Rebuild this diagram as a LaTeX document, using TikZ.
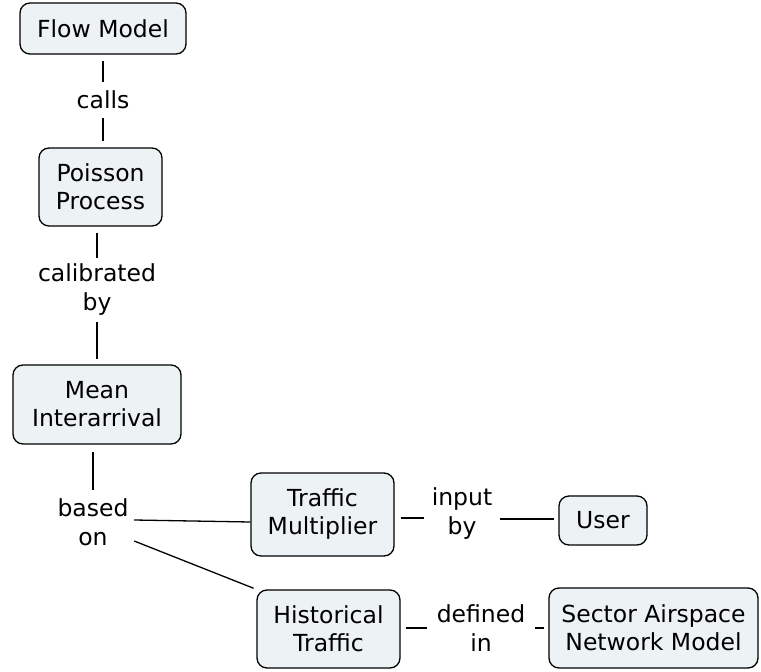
\documentclass[tikz,border=0pt]{standalone}
\usepackage{fontspec}
\setmainfont{DejaVu Sans}
\definecolor{boxfill}{RGB}{237,243,245}
\begin{document}
\begin{tikzpicture}[x=1pt,y=-1pt,
  concept/.style={draw=black, line width=1.3pt, fill=boxfill, rounded corners=10pt,
    align=center, inner sep=0pt, font=\fontsize{23.5}{28}\selectfont},
  lab/.style={align=center, inner sep=0pt, font=\fontsize{23.5}{29}\selectfont},
  link/.style={draw=black, line width=1.3pt}]
\useasboundingbox (0,0) rectangle (761,672);
\node[concept, minimum width=166pt, minimum height=51pt] (fm) at (103,28.5) {Flow Model};
\node[concept, minimum width=123pt, minimum height=78pt] (pp) at (100.5,187) {Poisson\\Process};
\node[concept, minimum width=168pt, minimum height=79pt] (mi) at (97,404.5) {Mean\\Interarrival};
\node[concept, minimum width=143pt, minimum height=83pt] (tm) at (322.5,514.5) {Traffic\\Multiplier};
\node[concept, minimum width=88pt, minimum height=49pt] (us) at (603,520.5) {User};
\node[concept, minimum width=143pt, minimum height=78pt] (ht) at (328.5,629) {Historical\\Traffic};
\node[concept, minimum width=209pt, minimum height=80pt] (sa) at (653.5,628) {Sector Airspace\\Network Model};

\node[lab, minimum height=36pt] (calls) at (103,100) {calls};
\node[lab, minimum height=64pt] (cb) at (97,290) {calibrated\\by};
\node[lab, minimum width=82pt, minimum height=64pt] (bo) at (93,522) {based\\on};
\node[lab, minimum width=76pt] (ib) at (462,514) {input\\by};
\node[lab, minimum width=108pt] (di) at (481,628) {defined\\in};

\draw[link, shorten <=6pt] (fm.south -| calls) -- (calls.north);
\draw[link, shorten >=6pt] (calls.south) -- (calls.south |- pp.north);
\draw[link, shorten <=6pt] (pp.south -| cb) -- (cb.north);
\draw[link, shorten >=5pt] (cb.south) -- (cb.south |- mi.north);
\draw[link, shorten <=7pt] (mi.south -| bo) -- (bo.north);
\draw[link] ([yshift=2pt]bo.east) -- ([yshift=-7.5pt]tm.west);
\draw[link, shorten >=3pt] ([yshift=-19pt]bo.east) -- (ht.north west);
\draw[link, shorten <=6pt] ([yshift=-3.5pt]tm.east) -- ([yshift=-4pt]ib.west);
\draw[link, shorten >=4pt] ([yshift=-5pt]ib.east) -- ([yshift=-5pt]ib.east -| us.west);
\draw[link, shorten <=5pt] (ht.east |- di) -- (di.west);
\draw[link, shorten >=4pt] (di.east) -- (di.east -| sa.west);
\end{tikzpicture}
\end{document}
